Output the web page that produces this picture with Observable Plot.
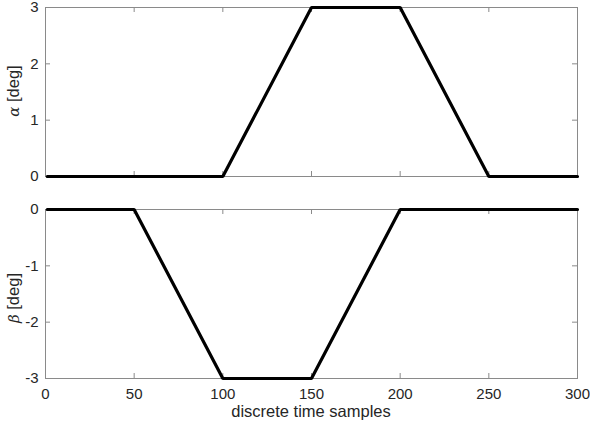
<!DOCTYPE html>
<html>
<head>
<meta charset="utf-8">
<script src="https://cdn.jsdelivr.net/npm/d3@7"></script>
<script src="https://cdn.jsdelivr.net/npm/@observablehq/plot@0.6"></script>
<style>
  html, body { margin: 0; padding: 0; background: #fff; }
  #chart { width: 590px; }
  #chart svg { display: block; }
</style>
</head>
<body>
<div id="chart"></div>
<script>
// Breakpoints of the two signals (sample index, degrees)
const sampleIdx = [1, 50, 100, 150, 200, 250, 300];
const alphaVals = [0, 0, 0, 3, 3, 0, 0];
const betaVals  = [0, 0, -3, -3, 0, 0, 0];
const xTicks = [0, 50, 100, 150, 200, 250, 300];
const alphaTicks = [0, 1, 2, 3];
const betaTicks = [-3, -2, -1, 0];
const xLabel = "discrete time samples";

const alphaData = sampleIdx.map((x, i) => ({x, y: alphaVals[i]}));
const betaData = sampleIdx.map((x, i) => ({x, y: betaVals[i]}));

const W = 590, ML = 45, MR = 13, TL = 5;
const axisColor = "#8a8a8a", textColor = "#262626";
const font = "'Liberation Sans', Arial, Helvetica, sans-serif";
const fmt = d => `${d}`;

function panel({data, yDomain, yTicks, height, marginTop, marginBottom, showX}) {
  const ph = height - marginTop - marginBottom;
  const pw = W - ML - MR;
  const marks = [
    Plot.frame({stroke: axisColor, strokeWidth: 1}),
    Plot.tickX(xTicks, {x: d => d, stroke: axisColor, insetTop: ph - TL}),
    Plot.tickX(xTicks, {x: d => d, stroke: axisColor, insetBottom: ph - TL}),
    Plot.tickY(yTicks, {y: d => d, stroke: axisColor, insetRight: pw - TL}),
    Plot.tickY(yTicks, {y: d => d, stroke: axisColor, insetLeft: pw - TL}),
    Plot.axisY(yTicks, {tickSize: 0, tickPadding: 7, tickFormat: fmt, label: null, color: textColor, fontSize: 15}),
    Plot.line(data, {x: "x", y: "y", stroke: "black", strokeWidth: 3.2, strokeLinejoin: "miter"})
  ];
  if (showX) marks.push(Plot.axisX(xTicks, {tickSize: 0, tickPadding: 10, tickFormat: fmt, label: null, color: textColor, fontSize: 15}));
  return Plot.plot({
    width: W, height, marginLeft: ML, marginRight: MR, marginTop, marginBottom,
    style: {fontFamily: font, fontSize: "15px", color: textColor, background: "white", overflow: "visible"},
    x: {domain: [0, 300], axis: null},
    y: {domain: yDomain, axis: null},
    marks
  });
}

function addYLabel(svg, greek, cy) {
  const t = d3.select(svg).append("text")
    .attr("transform", `translate(19,${cy}) rotate(-90)`)
    .attr("text-anchor", "middle")
    .attr("fill", textColor)
    .attr("font-size", 16.5)
    .attr("font-family", font);
  t.append("tspan").attr("font-family", "'DejaVu Serif', 'Liberation Serif', serif").attr("font-style", "italic").attr("font-size", 15).text(greek);
  t.append("tspan").text(" [deg]");
}

const topPanel = panel({data: alphaData, yDomain: [0, 3], yTicks: alphaTicks, height: 200, marginTop: 7, marginBottom: 24, showX: false});
addYLabel(topPanel, "α", 91);
const botPanel = panel({data: betaData, yDomain: [-3, 0], yTicks: betaTicks, height: 227, marginTop: 9, marginBottom: 49, showX: true});
addYLabel(botPanel, "β", 98);
d3.select(botPanel).append("text")
  .attr("x", ML + (W - ML - MR) / 2).attr("y", 217)
  .attr("text-anchor", "middle").attr("fill", textColor)
  .attr("font-size", 16.5).attr("font-family", font)
  .text(xLabel);

document.getElementById("chart").append(topPanel, botPanel);
</script>
</body>
</html>
